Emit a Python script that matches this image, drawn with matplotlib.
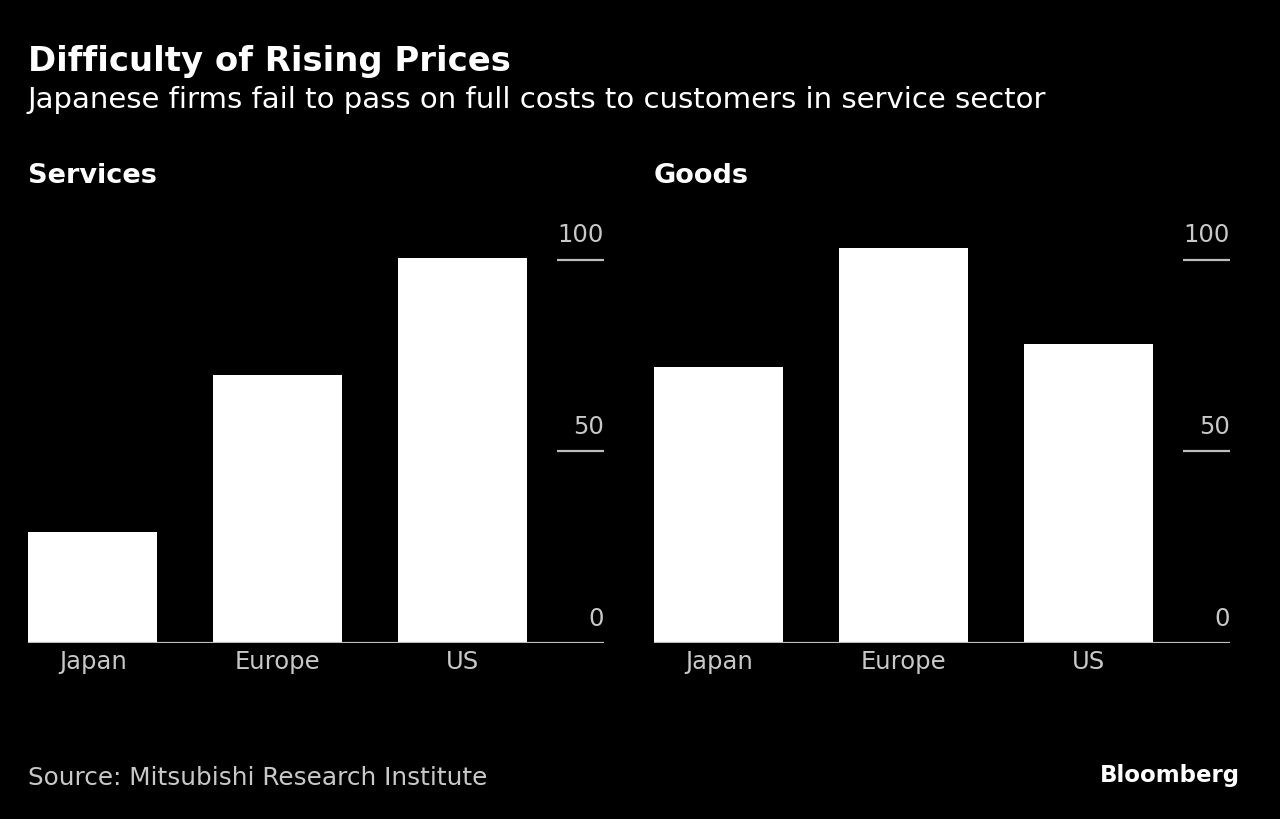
import matplotlib
matplotlib.use("Agg")
import matplotlib.pyplot as plt

# Data
categories = ["Japan", "Europe", "US"]
services_values = [29, 70, 100.5]
goods_values = [72, 103, 78]
y_ticks = [0, 50, 100]

plt.rcParams["font.family"] = ["DejaVu Sans"]

fig = plt.figure(figsize=(12.8, 8.2), dpi=100, facecolor="black")

GRID = "#bdbdbd"
LABEL = "#c8c8c8"


def draw_panel(ax, values):
    """Draw one Bloomberg-style bar panel with right-side labels."""
    ax.set_facecolor("black")
    x = range(len(categories))
    ax.bar(x, values, width=0.7, color="white", zorder=2)
    ax.set_xlim(-0.35, 2.765)
    ax.set_ylim(0, 110)
    for s in ax.spines.values():
        s.set_visible(False)
    ax.axhline(0, color=GRID, linewidth=1.6, zorder=3)
    ax.set_yticks([])
    ax.set_xticks(list(x))
    ax.set_xticklabels(categories, color=LABEL, fontsize=17.5)
    ax.tick_params(axis="x", length=0, pad=4)
    for t in y_ticks:
        if t > 0:
            ax.hlines(t, 2.51, 2.765, color=GRID, linewidth=1.6)
        ax.text(2.765, t + 3.5, str(t), ha="right", va="bottom",
                color=LABEL, fontsize=17.5)


ax1 = fig.add_axes([28 / 1280, 1 - 644 / 820, 576 / 1280, 421.6 / 820])
ax2 = fig.add_axes([654 / 1280, 1 - 644 / 820, 576 / 1280, 421.6 / 820])
draw_panel(ax1, services_values)
draw_panel(ax2, goods_values)

fig.text(28 / 1280, 1 - 61 / 820, "Difficulty of Rising Prices", color="white",
         fontsize=24.4, fontweight="bold", va="center", ha="left")
fig.text(28 / 1280, 1 - 100 / 820,
         "Japanese firms fail to pass on full costs to customers in service sector",
         color="white", fontsize=21, va="center", ha="left")
fig.text(28 / 1280, 1 - 176 / 820, "Services", color="white",
         fontsize=19.5, fontweight="bold", va="center", ha="left")
fig.text(654 / 1280, 1 - 176 / 820, "Goods", color="white",
         fontsize=19.5, fontweight="bold", va="center", ha="left")
fig.text(28 / 1280, 1 - 778 / 820, "Source: Mitsubishi Research Institute",
         color=LABEL, fontsize=17.8, va="center", ha="left")
fig.text(1240 / 1280, 1 - 776 / 820, "Bloomberg", color="white",
         fontsize=16.5, fontweight="bold", va="center", ha="right")

fig.savefig("out.png", dpi=100, facecolor="black")
